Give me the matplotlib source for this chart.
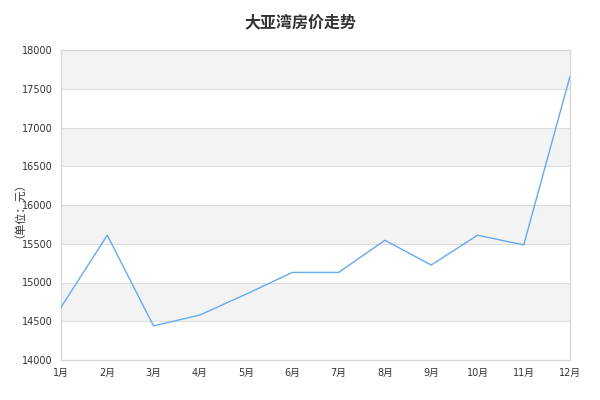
import matplotlib
matplotlib.use("Agg")
import matplotlib.pyplot as plt

plt.rcParams['font.family'] = ['Noto Sans CJK SC', 'DejaVu Sans']

months = ['1月', '2月', '3月', '4月', '5月', '6月', '7月', '8月', '9月', '10月', '11月', '12月']
prices = [14680, 15610, 14440, 14580, 14850, 15130, 15130, 15545, 15225, 15610, 15485, 17660]
y_ticks = list(range(14000, 18001, 500))

fig = plt.figure(figsize=(6, 4), dpi=100)
ax = fig.add_axes([61 / 600, 40 / 400, 509 / 600, 310 / 400])

# alternating bands, grey at the top
for i in range(len(y_ticks) - 1):
    if i % 2 == 1:
        ax.axhspan(y_ticks[i], y_ticks[i + 1], facecolor='#f3f3f3', zorder=0)
for y in y_ticks[1:-1]:
    ax.axhline(y, color='#dddddd', lw=0.8, zorder=1)

ax.plot(range(len(months)), prices, color='#66aaee', lw=1, zorder=3)

ax.set_xlim(0, len(months) - 1)
ax.set_ylim(14000, 18000)
ax.set_xticks(range(len(months)))
ax.set_xticklabels(months)
ax.set_yticks(y_ticks)
ax.tick_params(axis='both', length=0, labelsize=7, colors='#333333', pad=6)
for lab in ax.get_xticklabels() + ax.get_yticklabels():
    lab.set_fontfamily(['DejaVu Sans', 'Noto Sans CJK SC'])
for s in ax.spines.values():
    s.set_color('#d8d8d8')
    s.set_linewidth(1)

fig.text(14 / 600, 1 - 205 / 400, '（单位：元）', rotation=90, ha='center', va='center',
         fontsize=8, color='#333333')
fig.text(0.5, 1 - 22 / 400, '大亚湾房价走势', ha='center', va='center',
         fontsize=11.5, fontweight='bold', color='#333333')

fig.savefig('out.png', dpi=100, facecolor='white')
